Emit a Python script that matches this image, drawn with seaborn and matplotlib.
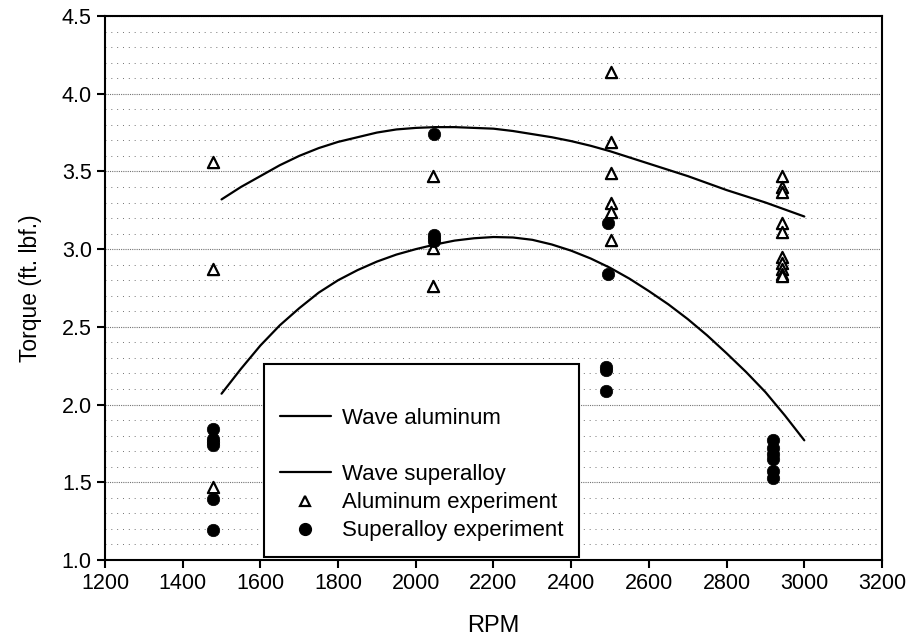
import matplotlib
matplotlib.use("Agg")
import matplotlib.pyplot as plt
import seaborn as sns
import pandas as pd
from matplotlib.lines import Line2D
from matplotlib.ticker import MultipleLocator, FormatStrFormatter

# ---- data ----
wave_rpm = [1500, 1550, 1600, 1650, 1700, 1750, 1800, 1850, 1900, 1950,
            2000, 2050, 2100, 2150, 2200, 2250, 2300, 2350, 2400, 2450,
            2500, 2550, 2600, 2650, 2700, 2750, 2800, 2850, 2900, 2950, 3000]
wave_aluminum = [3.32, 3.40, 3.47, 3.54, 3.60, 3.65, 3.69, 3.72, 3.75, 3.77,
                 3.78, 3.785, 3.785, 3.78, 3.775, 3.76, 3.74, 3.72, 3.695, 3.665,
                 3.63, 3.59, 3.55, 3.51, 3.47, 3.425, 3.38, 3.34, 3.30, 3.255, 3.21]
wave_superalloy = [2.07, 2.23, 2.38, 2.51, 2.62, 2.72, 2.80, 2.865, 2.92, 2.965,
                   3.00, 3.03, 3.055, 3.07, 3.078, 3.075, 3.06, 3.03, 2.99, 2.94,
                   2.88, 2.81, 2.73, 2.645, 2.55, 2.445, 2.33, 2.21, 2.08, 1.93, 1.77]

al_rpm = [1478, 1478, 1478,
          2044, 2044, 2044,
          2502, 2502, 2502, 2502, 2502, 2502,
          2942, 2942, 2942, 2942, 2942, 2942, 2942, 2942, 2942, 2942]
al_torque = [3.56, 2.87, 1.47,
             3.47, 3.01, 2.76,
             4.14, 3.69, 3.49, 3.30, 3.24, 3.06,
             3.47, 3.40, 3.37, 3.17, 3.11, 2.95, 2.91, 2.87, 2.84, 2.83]

sa_rpm = [1478, 1478, 1478, 1478, 1478, 1478,
          2046, 2046, 2046, 2046,
          2494, 2494, 2490, 2490, 2490,
          2920, 2920, 2920, 2920, 2920, 2920]
sa_torque = [1.84, 1.78, 1.76, 1.74, 1.39, 1.19,
             3.74, 3.09, 3.07, 3.05,
             3.17, 2.84, 2.24, 2.22, 2.09,
             1.77, 1.72, 1.68, 1.65, 1.57, 1.53]

x_ticks = [1200, 1400, 1600, 1800, 2000, 2200, 2400, 2600, 2800, 3000, 3200]

# ---- style ----
sns.set_style("white")
plt.rcParams['font.family'] = ['Liberation Sans', 'DejaVu Sans']
plt.rcParams['text.color'] = 'black'
plt.rcParams['axes.labelcolor'] = 'black'

fig = plt.figure(figsize=(9.09, 6.42), dpi=100)
ax = fig.add_axes([0.1155, 0.1277, 0.9703 - 0.1155, 0.9751 - 0.1277])

wave_df = pd.DataFrame({"rpm": wave_rpm, "al": wave_aluminum, "sa": wave_superalloy})
al_df = pd.DataFrame({"rpm": al_rpm, "torque": al_torque})
sa_df = pd.DataFrame({"rpm": sa_rpm, "torque": sa_torque})

sns.lineplot(data=wave_df, x="rpm", y="al", ax=ax, color="black", linewidth=1.6, zorder=3)
sns.lineplot(data=wave_df, x="rpm", y="sa", ax=ax, color="black", linewidth=1.6, zorder=3)
sns.scatterplot(data=al_df, x="rpm", y="torque", ax=ax, marker="^", s=65,
                facecolor="white", edgecolor="black", linewidth=1.6, zorder=4)
sns.scatterplot(data=sa_df, x="rpm", y="torque", ax=ax, marker="o", s=80,
                color="black", edgecolor="black", linewidth=0.5, zorder=4)

ax.set_xlim(1200, 3200)
ax.set_ylim(1.0, 4.5)
ax.set_xticks(x_ticks)
ax.yaxis.set_major_locator(MultipleLocator(0.5))
ax.yaxis.set_minor_locator(MultipleLocator(0.1))
ax.yaxis.set_major_formatter(FormatStrFormatter('%.1f'))

ax.grid(False)
ax.yaxis.grid(True, which='major', color='0.45', linestyle=(0, (1, 1)), linewidth=0.8)
ax.yaxis.grid(True, which='minor', color='0.45', linestyle=(0, (1, 5)), linewidth=0.7)
ax.set_axisbelow(True)

for sp in ax.spines.values():
    sp.set_color('black')
    sp.set_linewidth(1.5)

ax.tick_params(axis='both', which='major', direction='out', length=6, width=1.5,
               labelsize=15.5, colors='black', labelcolor='black', bottom=True, left=True)
ax.tick_params(axis='y', which='minor', length=0)

ax.set_xlabel("RPM", fontsize=17, labelpad=15, color='black')
ax.set_ylabel("Torque (ft. lbf.)", fontsize=16.5, labelpad=14, color='black')

blank = Line2D([], [], linestyle='none', marker=None)
handles = [
    blank,
    Line2D([], [], color='black', linewidth=1.6),
    blank,
    Line2D([], [], color='black', linewidth=1.6),
    Line2D([], [], linestyle='none', marker='^', markersize=6.5, markerfacecolor='white',
           markeredgecolor='black', markeredgewidth=1.6),
    Line2D([], [], linestyle='none', marker='o', markersize=8.5, color='black'),
]
labels = ["", "Wave aluminum", "", "Wave superalloy", "Aluminum experiment",
          "Superalloy experiment"]
leg = ax.legend(handles, labels, loc='lower left', bbox_to_anchor=(0.2046, 0.0055),
                borderaxespad=0, frameon=True, fancybox=False, fontsize=16,
                handlelength=2.3, handletextpad=0.5, labelspacing=0.32,
                borderpad=0.7, edgecolor='black', framealpha=1)
leg.get_frame().set_linewidth(1.5)
leg.set_zorder(5)
for t in leg.get_texts():
    t.set_color('black')

fig.savefig("out.png", dpi=100)
